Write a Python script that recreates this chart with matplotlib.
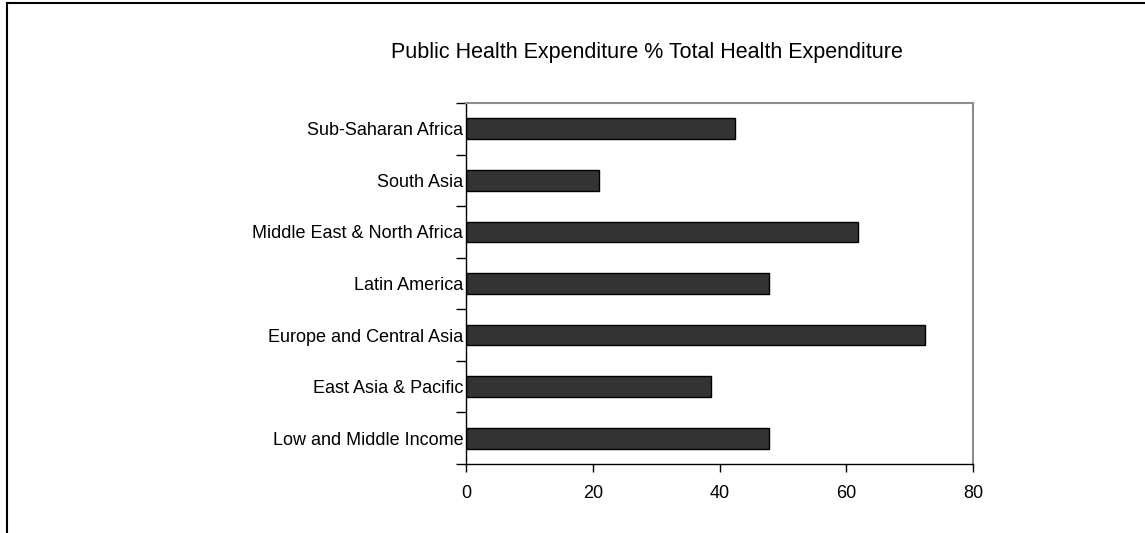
import matplotlib
matplotlib.use("Agg")
from matplotlib import pyplot as plt
from matplotlib.lines import Line2D

# Data (bottom to top as drawn)
regions = [
    "Low and Middle Income",
    "East Asia & Pacific",
    "Europe and Central Asia",
    "Latin America",
    "Middle East & North Africa",
    "South Asia",
    "Sub-Saharan Africa",
]
public_share = [47.8, 38.6, 72.5, 47.8, 61.8, 21.0, 42.4]
x_ticks = [0, 20, 40, 60, 80]

plt.rcParams["font.family"] = ["Liberation Sans", "DejaVu Sans"]

fig = plt.figure(figsize=(11.45, 5.33), dpi=100)
ax = fig.add_axes([0.407, 0.1295, 0.4428, 0.6773])

pos = list(range(len(regions)))
ax.barh(pos, public_share, height=0.4, color="#333333", edgecolor="black", linewidth=1.0)

ax.set_xlim(0, 80)
ax.set_ylim(-0.5, len(regions) - 0.5)
ax.set_xticks(x_ticks)
ax.set_xticklabels([str(t) for t in x_ticks], fontsize=13)
ax.tick_params(axis="x", direction="out", length=6, width=1, pad=9)

# category labels at bar centres, tick marks at boundaries
ax.set_yticks(pos)
ax.set_yticklabels(regions, fontsize=13)
ax.tick_params(axis="y", which="major", length=0, pad=2)
ax.set_yticks([p - 0.5 for p in pos] + [len(regions) - 0.5], minor=True)
ax.tick_params(axis="y", which="minor", direction="out", length=7, width=1)

for side in ["left", "bottom"]:
    ax.spines[side].set_color("black")
    ax.spines[side].set_linewidth(1.0)
for side in ["top", "right"]:
    ax.spines[side].set_color("#8c8c8c")
    ax.spines[side].set_linewidth(1.5)

fig.text(0.565, 0.9006, "Public Health Expenditure % Total Health Expenditure",
         fontsize=15.5, ha="center", va="center")

# outer frame (top and left edges visible)
fig.add_artist(Line2D([7 / 1145, 1.0], [1 - 3 / 533, 1 - 3 / 533], color="black",
                      linewidth=1.5, transform=fig.transFigure))
fig.add_artist(Line2D([7 / 1145, 7 / 1145], [0.0, 1 - 3 / 533], color="black",
                      linewidth=1.5, transform=fig.transFigure))

fig.savefig("out.png", dpi=100)
